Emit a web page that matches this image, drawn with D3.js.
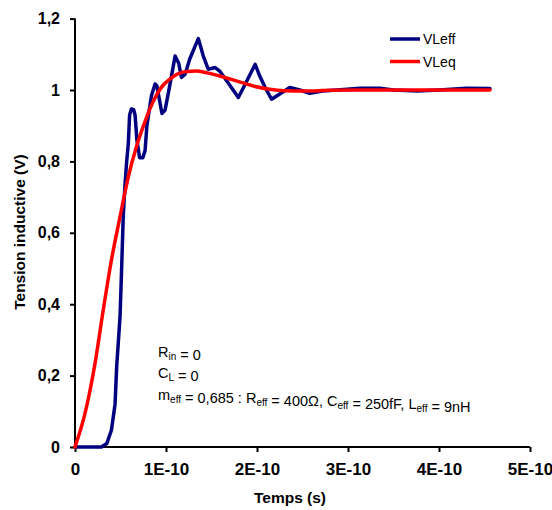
<!DOCTYPE html>
<html>
<head>
<meta charset="utf-8">
<script src="https://cdn.jsdelivr.net/npm/d3@7"></script>
<style>
  html, body { margin: 0; padding: 0; background: #fff; }
  svg { display: block; font-family: "Liberation Sans", Arial, sans-serif; }
</style>
</head>
<body>
<svg id="chart" width="552" height="510"></svg>
<script>
// ---- Data (time in units of 1E-10 s, voltage in V) ----
const xTickValues = [0, 1e-10, 2e-10, 3e-10, 4e-10, 5e-10];
const xTickLabels = ["0", "1E-10", "2E-10", "3E-10", "4E-10", "5E-10"];
const yTickValues = [0, 0.2, 0.4, 0.6, 0.8, 1, 1.2];
const yTickLabels = ["0", "0,2", "0,4", "0,6", "0,8", "1", "1,2"];

// VLeff (blue)
const vleffT = [0, 0.29, 0.35, 0.40, 0.44, 0.458, 0.495, 0.513, 0.53, 0.55, 0.568, 0.586, 0.60, 0.62, 0.645, 0.66, 0.68, 0.71, 0.745, 0.77, 0.79, 0.84, 0.88, 0.90, 0.955, 0.99, 1.04, 1.10, 1.14, 1.17, 1.21, 1.26, 1.355, 1.41, 1.465, 1.54, 1.59, 1.68, 1.795, 1.87, 1.98, 2.03, 2.09, 2.16, 2.22, 2.36, 2.47, 2.58, 2.72, 2.88, 3.13, 3.35, 3.50, 3.76, 4.00, 4.30, 4.56];
const vleffV = [0, 0, 0.01, 0.047, 0.12, 0.225, 0.365, 0.505, 0.645, 0.738, 0.80, 0.85, 0.93, 0.947, 0.945, 0.93, 0.86, 0.81, 0.81, 0.83, 0.90, 0.984, 1.017, 1.012, 0.934, 0.944, 1.011, 1.095, 1.075, 1.035, 1.044, 1.086, 1.144, 1.095, 1.058, 1.063, 1.053, 1.021, 0.979, 1.016, 1.072, 1.039, 1.007, 0.974, 0.984, 1.007, 1.0, 0.991, 0.997, 1.0, 1.005, 1.005, 1.0, 0.997, 1.0, 1.005, 1.004];

// VLeq (red)
const vleqT = [0, 0.11, 0.22, 0.31, 0.40, 0.495, 0.586, 0.68, 0.76, 0.824, 0.90, 0.97, 1.04, 1.12, 1.23, 1.33, 1.45, 1.62, 1.78, 1.98, 2.14, 2.3, 2.5, 2.8, 3.2, 4.56];
const vleqV = [0, 0.094, 0.234, 0.383, 0.523, 0.645, 0.757, 0.845, 0.905, 0.948, 0.988, 1.014, 1.03, 1.044, 1.052, 1.053, 1.048, 1.037, 1.025, 1.01, 1.002, 0.998, 0.997, 0.999, 1.0, 1.0];

const seriesNames = ["VLeff", "VLeq"];
const seriesColors = ["#000080", "#ff0000"];

// ---- Scales ----
const svg = d3.select("#chart");
const x = d3.scaleLinear().domain([0, 5e-10]).range([75, 530]);
const y = d3.scaleLinear().domain([0, 1.2]).range([447, 18.6]);

// ---- Axes ----
const xAxis = d3.axisBottom(x).tickValues(xTickValues)
  .tickFormat((d, i) => xTickLabels[i]).tickSizeInner(5).tickSizeOuter(0).tickPadding(11);
const yAxis = d3.axisLeft(y).tickValues(yTickValues)
  .tickFormat((d, i) => yTickLabels[i]).tickSizeInner(5).tickSizeOuter(0).tickPadding(10);

const gx = svg.append("g").attr("transform", "translate(0,447)").call(xAxis);
const gy = svg.append("g").attr("transform", "translate(75,0)").call(yAxis);
[gx, gy].forEach(g => {
  g.select(".domain").attr("stroke", "#000").attr("stroke-width", 2);
  g.selectAll(".tick line").attr("stroke", "#000").attr("stroke-width", 2);
  g.selectAll(".tick text").attr("fill", "#000").attr("font-weight", "bold")
    .attr("font-family", "'Liberation Sans', Arial, sans-serif");
});
gx.selectAll(".tick text").attr("font-size", 17);
gy.selectAll(".tick text").attr("font-size", 16);
gx.select(".domain").attr("d", `M75,0H530`);
gy.select(".domain").attr("d", `M0,447V18.6`);

// Axis titles
svg.append("text").attr("x", 290).attr("y", 503).attr("text-anchor", "middle")
  .attr("font-size", 15.5).attr("font-weight", "bold").text("Temps (s)");
svg.append("text").attr("transform", "translate(25,232) rotate(-90)").attr("text-anchor", "middle")
  .attr("font-size", 15.5).attr("font-weight", "bold").text("Tension inductive (V)");

// ---- Lines ----
const blueData = vleffT.map((t, i) => [t * 1e-10, vleffV[i]]);
const redData = vleqT.map((t, i) => [t * 1e-10, vleqV[i]]);

svg.append("path").datum(blueData)
  .attr("d", d3.line().x(d => x(d[0])).y(d => y(d[1])).curve(d3.curveLinear))
  .attr("fill", "none").attr("stroke", seriesColors[0]).attr("stroke-width", 3.5)
  .attr("stroke-linejoin", "round").attr("stroke-linecap", "round");

svg.append("path").datum(redData)
  .attr("d", d3.line().x(d => x(d[0])).y(d => y(d[1])).curve(d3.curveMonotoneX))
  .attr("fill", "none").attr("stroke", seriesColors[1]).attr("stroke-width", 3.5)
  .attr("stroke-linejoin", "round").attr("stroke-linecap", "round");

// ---- Legend ----
const legend = svg.append("g");
seriesNames.forEach((name, i) => {
  const ly = 39 + i * 22.5;
  legend.append("line").attr("x1", 390).attr("x2", 420).attr("y1", ly).attr("y2", ly)
    .attr("stroke", seriesColors[i]).attr("stroke-width", 3.5);
  legend.append("text").attr("x", 423).attr("y", ly + 5).attr("font-size", 14).attr("fill", "#000").text(name);
});

// ---- Annotation ----
const ann = svg.append("g").attr("font-size", 14.5).attr("fill", "#000");
function addText(xp, yp, parts) {
  const t = ann.append("text").attr("x", xp).attr("y", yp);
  parts.forEach(p => {
    if (p.sub) {
      t.append("tspan").attr("font-size", 10).attr("dy", 3).text(p.sub);
      t.append("tspan").attr("dy", -3).text("");
    } else {
      t.append("tspan").text(p.t);
    }
  });
}
addText(158, 357, [{t: "R"}, {sub: "in"}, {t: " = 0"}]);
addText(158, 378, [{t: "C"}, {sub: "L"}, {t: " = 0"}]);
addText(158, 400, [{t: "m"}, {sub: "eff"}, {t: " = 0,685 : R"}, {sub: "eff"}, {t: " = 400Ω, C"}, {sub: "eff"}, {t: " = 250fF, L"}, {sub: "eff"}, {t: " = 9nH"}]);
</script>
</body>
</html>
